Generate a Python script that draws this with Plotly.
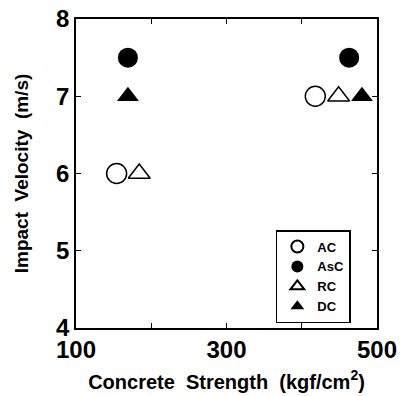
import plotly.graph_objects as go

# Data
series = ["AC", "AsC", "RC", "DC"]
ac_x = [154, 418]
ac_y = [6.0, 7.0]
asc_x = [169, 463]
asc_y = [7.5, 7.5]
rc_x = [184, 449]
rc_y = [6.0, 7.0]
dc_x = [169, 480]
dc_y = [7.0, 7.0]

x_ticks = [100, 300, 500]
x_minor = [200, 400]
y_ticks = [4, 5, 6, 7, 8]

FONT = "Liberation Sans, Arial, sans-serif"

styles = {
    "AC": dict(symbol="circle-open", size=20, color="black", line=dict(width=1.5, color="black")),
    "AsC": dict(symbol="circle", size=20, color="black"),
    "RC": dict(symbol="triangle-up-open", size=19, color="black", line=dict(width=1.5, color="black")),
    "DC": dict(symbol="triangle-up", size=19, color="black"),
}
data = {"AC": (ac_x, ac_y), "AsC": (asc_x, asc_y), "RC": (rc_x, rc_y), "DC": (dc_x, dc_y)}

fig = go.Figure()
for name in series:
    xs, ys = data[name]
    fig.add_trace(go.Scatter(x=xs, y=ys, mode="markers", name=name, marker=styles[name],
                             cliponaxis=False))

axis_common = dict(
    showline=True, linecolor="black", linewidth=1.5, mirror="ticks",
    ticks="inside", ticklen=5, tickwidth=1.2, tickcolor="black",
    showgrid=False, zeroline=False, automargin=False,
    ticklabeloverflow="allow",
    tickfont=dict(family=FONT, size=24, color="black", weight="bold"),
)

fig.update_layout(
    width=412, height=396,
    margin=dict(l=76, r=35, t=19, b=68),
    paper_bgcolor="white", plot_bgcolor="white",
    font=dict(family=FONT, color="black"),
    showlegend=True,
    legend=dict(
        x=0.664, y=0.317, xanchor="left", yanchor="top",
        bgcolor="white", bordercolor="black", borderwidth=1.5,
        font=dict(family=FONT, size=13, color="black", weight="bold"),
        itemsizing="constant", tracegroupgap=0, itemwidth=30,
    ),
    xaxis=dict(
        range=[100, 500], tickvals=x_ticks, ticklabelstandoff=-1,
        minor=dict(tickvals=x_minor, ticks="inside", ticklen=5, tickwidth=1.2, tickcolor="black"),
        title=dict(text="Concrete  Strength  (kgf/cm<sup>2</sup>)", standoff=13,
                   font=dict(family=FONT, size=20, color="black", weight="bold")),
        **axis_common,
    ),
    yaxis=dict(
        range=[4, 8], tickvals=y_ticks,
        title=dict(text="Impact  Velocity  (m/s)", standoff=22,
                   font=dict(family=FONT, size=19, color="black", weight="bold")),
        **axis_common,
    ),
)

fig.write_html("out.html", config={"displayModeBar": False},
               post_script="document.body.style.margin='0';")
